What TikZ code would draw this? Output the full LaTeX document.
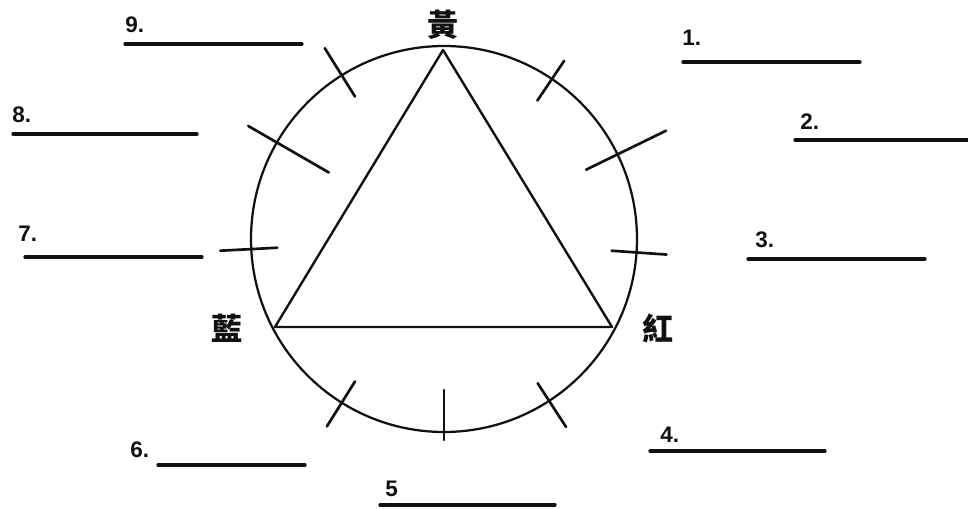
\documentclass[tikz,border=0pt]{standalone}
\usepackage{fontspec}
\newfontfamily\cjk{Noto Sans CJK TC}
\setsansfont{Liberation Sans}
\usepackage{tikz}
\definecolor{ink}{HTML}{111111}
\tikzset{
  blank/.style={ink,line width=2.3pt,line cap=round},
  tickmark/.style={ink,line width=1.9pt,line cap=round},
  numlabel/.style={anchor=south west,inner sep=0pt,ink,font=\sffamily\bfseries\fontsize{16}{16}\selectfont},
  hue/.style={inner sep=0pt,ink,font=\cjk\bfseries\fontsize{22}{22}\selectfont}
}

\begin{document}
\begin{tikzpicture}[x=0.025cm,y=0.025cm]
    \useasboundingbox (0,0) rectangle (968,508);
    % Wheel
    \coordinate (c) at (444,269);
    \draw[ink,line width=1.6pt] (c) circle (193);
    \coordinate (top) at (443,458);
    \coordinate (left) at (275,181);
    \coordinate (right) at (612,181);
    \draw[ink,line width=1.7pt,line join=round] (top) -- (right) -- (left) -- cycle;
    \foreach \a/\ri/\ro in {56/167/215, 26/158/247, -4/168/223, 303/172/224,
                            270/151/201, 238/168/221, 183/167/224, 150/133/226, 122/168/225}{
      \draw[tickmark] ([shift={(\a:\ri)}]c) -- ([shift={(\a:\ro)}]c);
    }
    \node[hue] (yellow) at (443,483) {黃};
    \node[hue] (blue) at (227,180) {藍};
    \node[hue] (red) at (658,180) {紅};
    % Blanks
    \foreach \n/\tx/\ty/\xa/\xb/\yl in {1./682/462/683/860/446, 2./800/378/795/968/368,
                                       3./755/260/748/925/249, 4./660/65/650/825/57,
                                       5/385/11/380/555/3, 6./130/50/158/305/43,
                                       7./18/266/25/202/251, 8./12/385/13/197/374,
                                       9./125/475/125/302/464}{
      \node[numlabel] (n\tx) at (\tx,\ty) {\n};
      \draw[blank] (\xa,\yl) -- (\xb,\yl);
    }
  \end{tikzpicture}
\end{document}
